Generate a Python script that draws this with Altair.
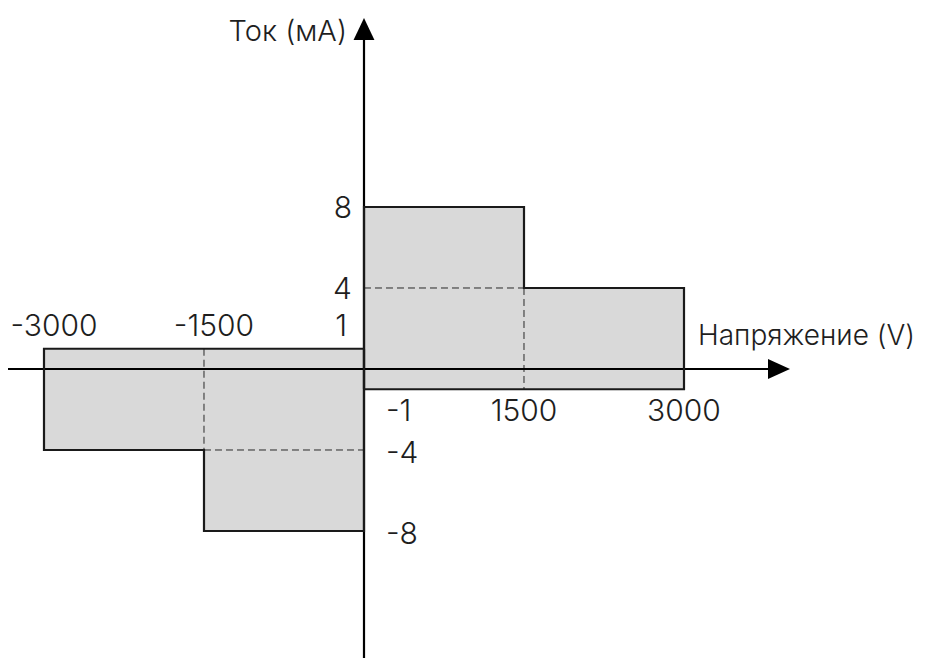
import altair as alt
import pandas as pd

# ---- data ----
# filled regions (x1, x2, y1, y2)
fill_x1 = [0, 1500, -3000, -1500]
fill_x2 = [1500, 3000, 0, 0]
fill_y1 = [-1, -1, -4, -8]
fill_y2 = [8, 4, 1, -4]

# outlines of the two step shapes
pos_x = [0, 0, 1500, 1500, 3000, 3000, 0]
pos_y = [-1, 8, 8, 4, 4, -1, -1]
neg_x = [0, -3000, -3000, -1500, -1500, 0, 0]
neg_y = [1, 1, -4, -4, -8, -8, 1]

# dashed guide segments
dash_x1 = [-1500, -1500, 0, 1500]
dash_y1 = [1, -4, 4, 4]
dash_x2 = [-1500, 0, 1500, 1500]
dash_y2 = [-4, -4, 4, -1]

# tick labels
top_labels = ["-3000", "-1500"]
top_label_x = [-3000, -1500]
bottom_labels = ["1500", "3000"]
bottom_label_x = [1500, 3000]
left_labels = ["8", "4"]
left_label_y = [8, 4]
right_labels = ["-4", "-8"]
right_label_y = [-4, -8]

x_title = "Напряжение (V)"
y_title = "Ток (мА)"

# scale domains / axis extents (data units)
X_DOMAIN = [-3337.5, 5184.4]
Y_DOMAIN = [-14.272, 17.827]
x_axis_end = 3853
y_axis_end = 16.25
x_arrow_at = 3890.6
y_arrow_at = 16.79

W, H = 909, 650
FONT = "Inter"
TXT = "#1e1e1e"

xs = alt.Scale(domain=X_DOMAIN, nice=False, zero=False)
ys = alt.Scale(domain=Y_DOMAIN, nice=False, zero=False)


def X(field="x"):
    return alt.X(f"{field}:Q", scale=xs, axis=None)


def Y(field="y"):
    return alt.Y(f"{field}:Q", scale=ys, axis=None)


fills = alt.Chart(pd.DataFrame({"x": fill_x1, "x2": fill_x2, "y": fill_y1, "y2": fill_y2})).mark_rect(
    color="#d9d9d9", strokeWidth=0
).encode(x=X(), x2="x2:Q", y=Y(), y2="y2:Q")

dashes = alt.Chart(pd.DataFrame({"x": dash_x1, "x2": dash_x2, "y": dash_y1, "y2": dash_y2})).mark_rule(
    color="#2a2a2a", strokeWidth=1, strokeDash=[7, 4]
).encode(x=X(), x2="x2:Q", y=Y(), y2="y2:Q")

axes_df = pd.DataFrame({
    "x": [X_DOMAIN[0], 0],
    "x2": [x_axis_end, 0],
    "y": [0, Y_DOMAIN[0]],
    "y2": [0, y_axis_end],
})
axes = alt.Chart(axes_df).mark_rule(color="black", strokeWidth=2.2).encode(
    x=X(), x2="x2:Q", y=Y(), y2="y2:Q"
)

outline_df = pd.DataFrame({
    "x": pos_x + neg_x,
    "y": pos_y + neg_y,
    "shape": ["pos"] * len(pos_x) + ["neg"] * len(neg_x),
    "o": list(range(len(pos_x))) + list(range(len(neg_x))),
})
outlines = alt.Chart(outline_df).mark_line(color="#1a1a1a", strokeWidth=2.2, strokeJoin="miter").encode(
    x=X(), y=Y(), detail="shape:N", order="o:Q"
)

arrow_x = alt.Chart(pd.DataFrame({"x": [x_arrow_at], "y": [0]})).mark_point(
    shape="M-1,-0.9L1,0L-1,0.9Z", size=484, filled=True, color="black", opacity=1, strokeWidth=0
).encode(x=X(), y=Y())
arrow_y = alt.Chart(pd.DataFrame({"x": [0], "y": [y_arrow_at]})).mark_point(
    shape="M0,-1L0.95,1L-0.95,1Z", size=484, filled=True, color="black", opacity=1, strokeWidth=0
).encode(x=X(), y=Y())


def text_layer(df, align, dx, dy, size=30):
    return alt.Chart(df).mark_text(
        font=FONT, fontSize=size, fontWeight=300, color=TXT,
        align=align, baseline="middle", dx=dx, dy=dy
    ).encode(x=X(), y=Y(), text="t:N")


t_top = text_layer(pd.DataFrame({"x": top_label_x, "y": [1] * 2, "t": top_labels}), "center", 10, -22)
t_one = text_layer(pd.DataFrame({"x": [0], "y": [1], "t": ["1"]}), "right", -17, -22)
t_bottom = text_layer(pd.DataFrame({"x": bottom_label_x, "y": [-1] * 2, "t": bottom_labels}), "center", 0, 23)
t_mone = text_layer(pd.DataFrame({"x": [0], "y": [-1], "t": ["-1"]}), "left", 22, 23)
t_left = text_layer(pd.DataFrame({"x": [0] * 2, "y": left_label_y, "t": left_labels}), "right", -12, 2)
t_right = text_layer(pd.DataFrame({"x": [0] * 2, "y": right_label_y, "t": right_labels}), "left", 22, 4)

t_xtitle = text_layer(pd.DataFrame({"x": [3000], "y": [0], "t": [x_title]}), "left", 14, -32, size=28)
t_ytitle = text_layer(pd.DataFrame({"x": [0], "y": [y_arrow_at], "t": [y_title]}), "right", -17, 3, size=29)

chart = alt.layer(
    fills, dashes, axes, outlines, arrow_x, arrow_y,
    t_top, t_one, t_bottom, t_mone, t_left, t_right, t_xtitle, t_ytitle
).properties(
    width=W, height=H, padding=0, autosize=alt.AutoSizeParams(type="none")
).configure_view(stroke=None)

chart.save("out.html", embed_options={"renderer": "svg", "actions": False})
